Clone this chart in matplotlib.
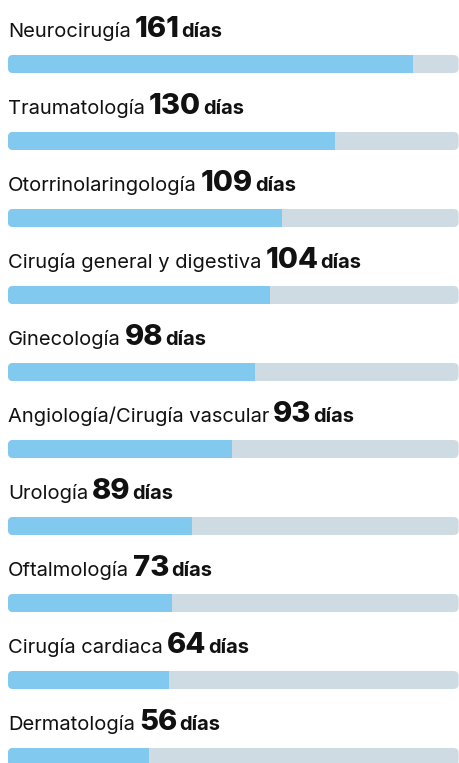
import matplotlib; matplotlib.use("Agg")
import matplotlib.pyplot as plt
from matplotlib.patches import FancyBboxPatch, Rectangle

# data
specialties = ["Neurocirugía", "Traumatología", "Otorrinolaringología", "Cirugía general y digestiva",
               "Ginecología", "Angiología/Cirugía vascular", "Urología", "Oftalmología",
               "Cirugía cardiaca", "Dermatología"]
days_label = [161, 130, 109, 104, 98, 93, 89, 73, 64, 56]
# bar lengths as drawn in the original (a few do not match their labels)
days_bar = [161, 130, 109, 104, 98, 89, 73, 65, 64, 56]
track_max = 179

INK = "#111111"; FILL = "#82C9F0"; TRACK = "#CEDBE2"
FONT = ["Inter", "DejaVu Sans"]

W, H = 459, 763
fig = plt.figure(figsize=(W / 100, H / 100), dpi=100)
fig.patch.set_facecolor("white")
# x: days, 0 at 8px ; y: rows, row i bar centre at 64+77*i px
px_per_day = 405.3 / 161
ax = fig.add_axes([8 / W, 0, 1 - 8 / W, 1])
ax.set_xlim(0, (W - 8) / px_per_day)
ax.set_ylim((H - 64) / 77, -64 / 77)
ax.axis("off")

bar_h = 18 / 77
r_days = 5 / px_per_day
aspect = px_per_day / 77

fig.canvas.draw()
rend = fig.canvas.get_renderer()
inv = ax.transData.inverted()

for i, (lab, num, val) in enumerate(zip(specialties, days_label, days_bar)):
    track = FancyBboxPatch((0, i - bar_h / 2), track_max, bar_h,
                           boxstyle=f"round,pad=0,rounding_size={r_days}", mutation_aspect=aspect,
                           facecolor=TRACK, edgecolor="none")
    ax.add_patch(track)
    fill = Rectangle((0, i - bar_h / 2), val, bar_h, facecolor=FILL, edgecolor="none")
    ax.add_patch(fill)
    fill.set_clip_path(track)

    yb = i - 27 / 77
    t1 = ax.text(0, yb, lab, fontsize=14.5, family=FONT, color=INK, va="baseline", ha="left")
    bb = t1.get_window_extent(rend)
    x2 = inv.transform((bb.x1 + 4, 0))[0]
    t2 = ax.text(x2, yb, str(num), fontsize=21, family=FONT, weight="heavy", color=INK,
                 va="baseline", ha="left")
    bb = t2.get_window_extent(rend)
    x3 = inv.transform((bb.x1 + 2, 0))[0]
    ax.text(x3, yb, "días", fontsize=14.5, family=FONT, weight="bold", color=INK,
            va="baseline", ha="left")

fig.savefig("out.png", dpi=100)
